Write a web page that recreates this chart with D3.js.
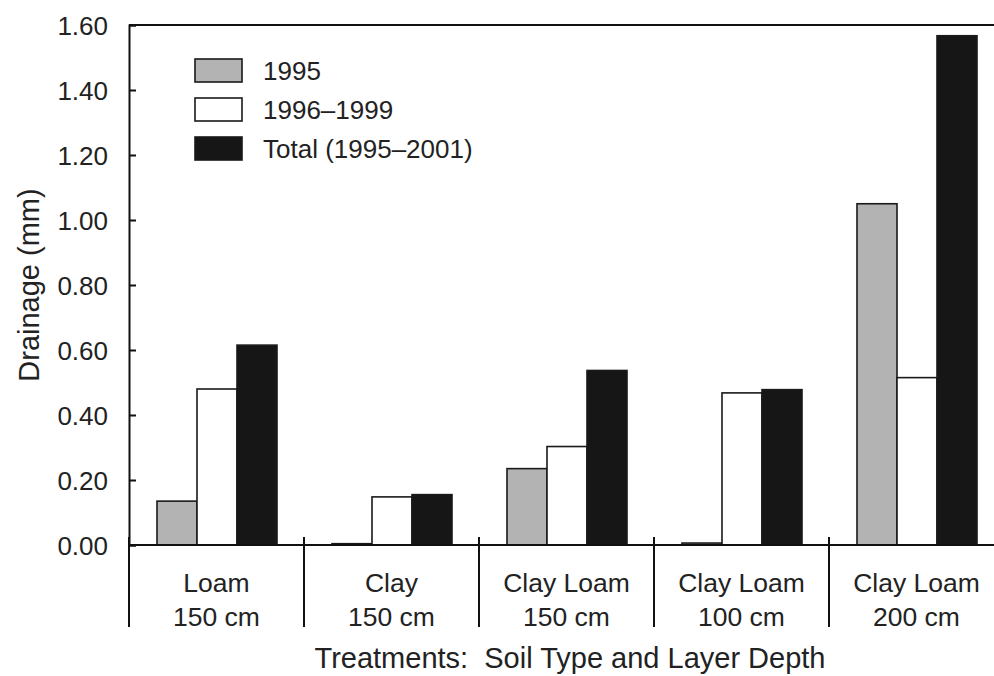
<!DOCTYPE html>
<html>
<head>
<meta charset="utf-8">
<script src="https://cdn.jsdelivr.net/npm/d3@7"></script>
<style>
  body { margin: 0; background: #fff; }
  text { font-family: "Liberation Sans", Arial, sans-serif; fill: #222; }
</style>
</head>
<body>
<div id="chart"></div>
<script>
// data
const soilTypes = ["Loam", "Clay", "Clay Loam", "Clay Loam", "Clay Loam"];
const depths = ["150 cm", "150 cm", "150 cm", "100 cm", "200 cm"];
const seriesNames = ["1995", "1996\u20131999", "Total (1995\u20132001)"];
const values1995 = [0.135, 0.004, 0.235, 0.006, 1.05];
const values1996 = [0.48, 0.148, 0.303, 0.468, 0.515];
const valuesTotal = [0.615, 0.155, 0.537, 0.478, 1.567];
const yTicks = [0, 0.2, 0.4, 0.6, 0.8, 1.0, 1.2, 1.4, 1.6];
const colors = ["#b3b3b3", "#ffffff", "#161616"];

const width = 994, height = 676;
const margin = { top: 25, left: 129, bottom: 131 };
const plotH = height - margin.top - margin.bottom; // 520

const svg = d3.select("#chart").append("svg")
    .attr("width", width)
    .attr("height", height);

const groups = soilTypes.map((s, i) => i);
const x0 = d3.scaleBand().domain(groups).range([margin.left, margin.left + 175 * 5]).padding(0);
const x1 = d3.scaleBand().domain([0, 1, 2]).range([28, 148]).padding(0);
const y = d3.scaleLinear().domain([0, 1.6]).range([margin.top + plotH, margin.top]);

const series = [values1995, values1996, valuesTotal];

// bars
const g = svg.append("g");
groups.forEach(i => {
    series.forEach((vals, s) => {
        g.append("rect")
            .attr("x", x0(i) + x1(s))
            .attr("y", y(vals[i]))
            .attr("width", x1.bandwidth())
            .attr("height", y(0) - y(vals[i]))
            .attr("fill", colors[s])
            .attr("stroke", "#1a1a1a")
            .attr("stroke-width", 1.6);
    });
});

// top frame line
svg.append("line")
    .attr("x1", margin.left).attr("x2", width + 20)
    .attr("y1", y(1.6)).attr("y2", y(1.6))
    .attr("stroke", "#111").attr("stroke-width", 2);

// y axis, ticks inward
const yAxis = d3.axisRight(y).tickValues(yTicks).tickSize(7).tickFormat(d3.format(".2f"));
const ya = svg.append("g").attr("transform", `translate(${margin.left},0)`).call(yAxis);
ya.select(".domain").attr("stroke", "#111").attr("stroke-width", 2);
ya.selectAll(".tick line").attr("stroke", "#111").attr("stroke-width", 2);
ya.selectAll(".tick text")
    .attr("x", -21).attr("text-anchor", "end")
    .style("font-size", "26px").attr("dy", "0.35em");

// x axis baseline
svg.append("line")
    .attr("x1", margin.left).attr("x2", width + 20)
    .attr("y1", y(0)).attr("y2", y(0))
    .attr("stroke", "#111").attr("stroke-width", 2);

// group dividers
groups.forEach(i => {
    svg.append("line")
        .attr("x1", x0(i)).attr("x2", x0(i))
        .attr("y1", y(0) - 8).attr("y2", 627)
        .attr("stroke", "#111").attr("stroke-width", 2);
});

// category labels
const lab = svg.append("g");
groups.forEach(i => {
    const cx = x0(i) + x0.bandwidth() / 2;
    lab.append("text").attr("x", cx).attr("y", 592).attr("text-anchor", "middle")
        .style("font-size", "26.5px").text(soilTypes[i]);
    lab.append("text").attr("x", cx).attr("y", 626).attr("text-anchor", "middle")
        .style("font-size", "26.5px").text(depths[i]);
});

// axis titles
svg.append("text")
    .attr("x", 570).attr("y", 668).attr("text-anchor", "middle")
    .style("font-size", "29px")
    .attr("xml:space", "preserve")
    .text("Treatments:  Soil Type and Layer Depth");

svg.append("text")
    .attr("transform", "translate(39,285) rotate(-90)")
    .attr("text-anchor", "middle")
    .style("font-size", "29px")
    .text("Drainage (mm)");

// legend
const legend = svg.append("g").attr("transform", "translate(195,59)");
seriesNames.forEach((name, s) => {
    const row = legend.append("g").attr("transform", `translate(0,${s * 39})`);
    row.append("rect").attr("width", 47).attr("height", 23)
        .attr("fill", colors[s]).attr("stroke", "#1a1a1a").attr("stroke-width", 1.6);
    row.append("text").attr("x", 68).attr("y", 21)
        .style("font-size", "26px").text(name);
});
</script>
</body>
</html>
